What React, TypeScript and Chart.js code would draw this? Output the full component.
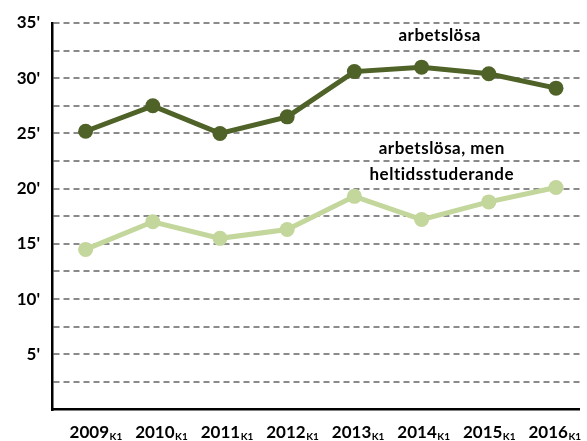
import React, { useEffect, useRef } from "react";
import { Chart, registerables } from "chart.js";

Chart.register(...registerables);

const years = ["2009", "2010", "2011", "2012", "2013", "2014", "2015", "2016"];
const quarterSuffix = "K1";
const arbetslosa = [25.2, 27.5, 25.0, 26.5, 30.6, 31.0, 30.4, 29.1];
const heltidsstuderande = [14.5, 17.0, 15.5, 16.3, 19.3, 17.2, 18.8, 20.1];
const seriesNames = ["arbetslösa", "arbetslösa, men heltidsstuderande"];
const annotationLines = [
  { text: "arbetslösa", x: 5.27, y: 33.9 },
  { text: "arbetslösa, men", x: 5.3, y: 23.6 },
  { text: "heltidsstuderande", x: 5.3, y: 21.3 },
];

const FONT = "Lato, 'DejaVu Sans', sans-serif";

const labelPlugin = {
  id: "customLabels",
  afterDraw(chart: any) {
    const ctx = chart.ctx;
    const xs = chart.scales.x;
    const ys = chart.scales.y;
    ctx.save();
    ctx.fillStyle = "#000";
    ctx.textBaseline = "alphabetic";
    ctx.textAlign = "left";
    years.forEach((yr, i) => {
      const px = xs.getPixelForValue(i * 0.9755);
      ctx.font = `bold 17px ${FONT}`;
      const w1 = ctx.measureText(yr).width;
      const start = px - 16;
      ctx.fillText(yr, start, 438);
      ctx.font = `bold 10px ${FONT}`;
      ctx.fillText(quarterSuffix, start + w1 + 0.5, 440);
    });
    ctx.font = `bold 17px ${FONT}`;
    (ctx as any).letterSpacing = "0.5px";
    ctx.textAlign = "center";
    ctx.textBaseline = "middle";
    annotationLines.forEach((a) => {
      ctx.fillText(a.text, xs.getPixelForValue(a.x), ys.getPixelForValue(a.y));
    });
    ctx.restore();
  },
};

export default function App() {
  const ref = useRef<HTMLCanvasElement>(null);
  useEffect(() => {
    if (!ref.current) return;
    const chart = new Chart(ref.current, {
      type: "line",
      data: {
        datasets: [
          {
            label: seriesNames[0],
            data: arbetslosa.map((v, i) => ({ x: i, y: v })),
            borderColor: "#4F6228",
            backgroundColor: "#4F6228",
            borderWidth: 5,
            pointRadius: 7.5,
            pointBorderWidth: 0,
            pointBackgroundColor: "#4F6228",
            tension: 0,
          },
          {
            label: seriesNames[1],
            data: heltidsstuderande.map((v, i) => ({ x: i, y: v })),
            borderColor: "#C3D69B",
            backgroundColor: "#C3D69B",
            borderWidth: 5,
            pointRadius: 7.5,
            pointBorderWidth: 0,
            pointBackgroundColor: "#C3D69B",
            tension: 0,
          },
        ],
      },
      options: {
        responsive: false,
        animation: false,
        layout: { padding: { top: 23, left: 0, right: 0, bottom: 0 } },
        plugins: {
          legend: { display: false },
          tooltip: { enabled: false },
        },
        scales: {
          x: {
            type: "linear",
            min: -0.5,
            max: 7.35,
            grid: { display: false, drawTicks: false },
            border: { display: true, color: "#000", width: 2.5 },
            ticks: { display: false },
            afterFit: (s: any) => {
              s.height = 31.5;
            },
          },
          y: {
            min: 0,
            max: 35,
            grid: {
              color: (c: any) => (c.tick && c.tick.value === 0 ? "rgba(0,0,0,0)" : "#8a8a8a"),
              lineWidth: 2,
              drawTicks: false,
            },
            border: { display: true, color: "#000", width: 2.5, dash: [6, 4] },
            ticks: {
              stepSize: 2.5,
              autoSkip: false,
              padding: 12,
              color: "#000",
              font: { family: FONT, size: 17, weight: "bold" },
              callback: (v: any) => (v % 5 === 0 && v !== 0 ? `${v}'` : ""),
            },
            afterFit: (s: any) => {
              s.width = 52;
            },
          },
        },
      },
      plugins: [labelPlugin],
    } as any);
    return () => chart.destroy();
  }, []);
  return (
    <div style={{ position: "absolute", left: 0, top: 0, width: 587, height: 441 }}>
      <canvas ref={ref} width={587} height={441} />
    </div>
  );
}
